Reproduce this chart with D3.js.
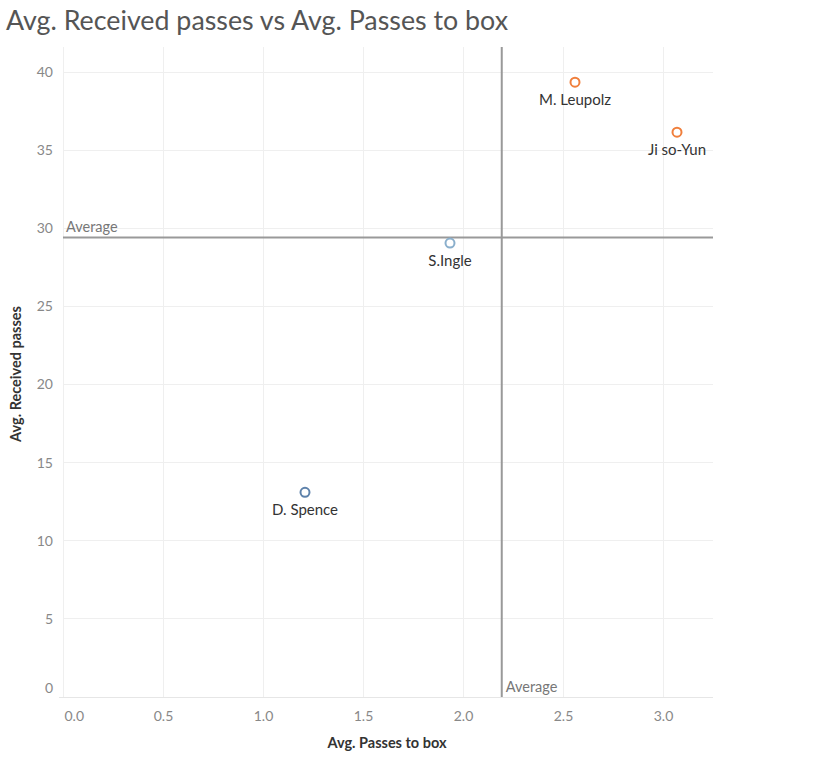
<!DOCTYPE html>
<html>
<head>
<meta charset="utf-8">
<script src="https://cdn.jsdelivr.net/npm/d3@7"></script>
<style>
body { margin:0; background:#fff; font-family: Lato, "Open Sans", sans-serif; }
.ttl { font-size:26.8px; fill:#555; }
.tick text { font-size:14px; fill:#888; font-family: Lato, sans-serif; }
.axtitle { font-size:14.5px; fill:#333; font-weight:bold; }
.plab { font-size:15px; fill:#333; }
.avg { font-size:14.5px; fill:#777; }
</style>
</head>
<body>
<div class="graphbox"></div>
<script>
var players = ["M. Leupolz","Ji so-Yun","S.Ingle","D. Spence"]
var passesToBox = [2.56,3.07,1.935,1.21]
var receivedPasses = [39.35,36.15,29.05,13.1]
var dotColors = ["#f07f3c","#f07f3c","#8aafcc","#5e82ab"]
var xTicks = [0,0.5,1,1.5,2,2.5,3]
var yTicks = [0,5,10,15,20,25,30,35,40]

var svgWidth = 816
var svgHeight = 768
var plotLeft = 63, plotRight = 713, plotTop = 47, plotBottom = 697

var mysvg = d3.select(".graphbox").append("svg")
  .attr("width", svgWidth)
  .attr("height", svgHeight)

var x = d3.scaleLinear().domain([0,3.25]).range([plotLeft,plotRight])
var y = d3.scaleLinear().domain([0,41.6]).range([plotBottom,plotTop])

mysvg.append("text").attr("class","ttl")
  .attr("x",6).attr("y",30)
  .text("Avg. Received passes vs Avg. Passes to box")

// gridlines
mysvg.selectAll(".vgrid").data(xTicks).enter().append("line")
  .attr("x1",function(d){return x(d)}).attr("x2",function(d){return x(d)})
  .attr("y1",plotTop).attr("y2",plotBottom)
  .attr("stroke","#efefef").attr("shape-rendering","crispEdges")
mysvg.selectAll(".hgrid").data(yTicks.slice(1)).enter().append("line")
  .attr("x1",plotLeft).attr("x2",plotRight)
  .attr("y1",function(d){return y(d)}).attr("y2",function(d){return y(d)})
  .attr("stroke","#efefef").attr("shape-rendering","crispEdges")
mysvg.append("line").attr("x1",plotLeft-4).attr("x2",plotRight)
  .attr("y1",plotBottom).attr("y2",plotBottom)
  .attr("stroke","#e6e6e6").attr("shape-rendering","crispEdges")

// axes
var xAxis = mysvg.append("g").attr("transform","translate(0,"+(plotBottom+8)+")")
  .call(d3.axisBottom(x).tickValues(xTicks).tickSize(0).tickFormat(d3.format(".1f")))
xAxis.select(".domain").remove()
xAxis.selectAll(".tick text").attr("dy","0.9em")
  .filter(function(d){return d===0}).attr("text-anchor","start").attr("dx","1")

var yAxis = mysvg.append("g").attr("transform","translate("+(plotLeft-7)+",0)")
  .call(d3.axisLeft(y).tickValues(yTicks).tickSize(0))
yAxis.select(".domain").remove()
yAxis.selectAll(".tick text").filter(function(d){return d===0}).attr("dy","-0.35em")

mysvg.append("text").attr("class","axtitle")
  .attr("x",(plotLeft+plotRight)/2 - 1).attr("y",748).attr("text-anchor","middle")
  .text("Avg. Passes to box")
mysvg.append("text").attr("class","axtitle")
  .attr("transform","translate(21,"+((plotTop+plotBottom)/2+2)+") rotate(-90)")
  .attr("text-anchor","middle")
  .text("Avg. Received passes")

// average reference lines
var avgX = d3.mean(passesToBox)
var avgY = d3.mean(receivedPasses)
mysvg.append("line").attr("x1",plotLeft).attr("x2",plotRight)
  .attr("y1",y(avgY)).attr("y2",y(avgY))
  .attr("stroke","#999").attr("stroke-width",2)
mysvg.append("line").attr("x1",x(avgX)).attr("x2",x(avgX))
  .attr("y1",plotTop).attr("y2",plotBottom)
  .attr("stroke","#999").attr("stroke-width",2)
mysvg.append("text").attr("class","avg")
  .attr("x",plotLeft+3).attr("y",y(avgY)-5).text("Average")
mysvg.append("text").attr("class","avg")
  .attr("x",x(avgX)+4).attr("y",plotBottom-5).text("Average")

// points
mysvg.selectAll("circle").data(players).enter().append("circle")
  .attr("cx",function(d,i){return x(passesToBox[i])})
  .attr("cy",function(d,i){return y(receivedPasses[i])})
  .attr("r",4.5)
  .attr("fill","#fff")
  .attr("stroke",function(d,i){return dotColors[i]})
  .attr("stroke-width",2)

mysvg.selectAll(".plab").data(players).enter().append("text")
  .attr("class","plab")
  .attr("x",function(d,i){return x(passesToBox[i])})
  .attr("y",function(d,i){return y(receivedPasses[i])+23})
  .attr("text-anchor","middle")
  .text(function(d){return d})
</script>
</body>
</html>
